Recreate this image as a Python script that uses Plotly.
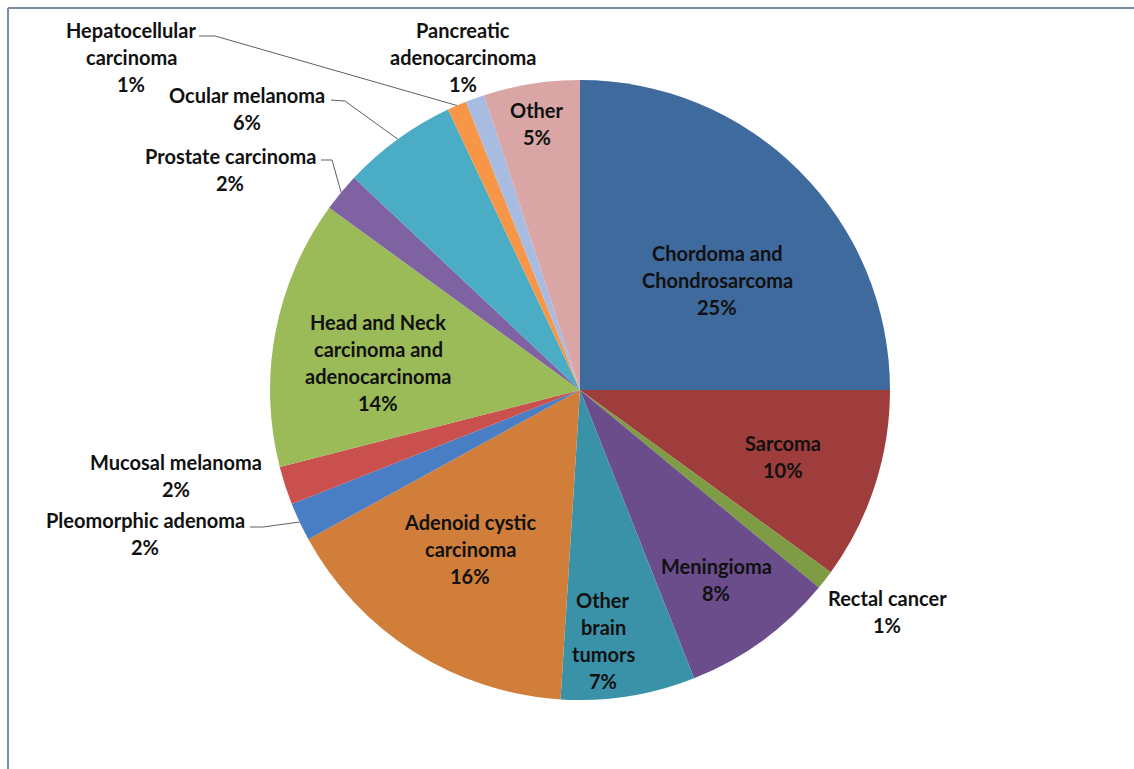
import math
import plotly.graph_objects as go

# Tumour types treated, share of patients (%)
categories = [
    "Chordoma and Chondrosarcoma", "Sarcoma", "Rectal cancer", "Meningioma",
    "Other brain tumors", "Adenoid cystic carcinoma", "Pleomorphic adenoma",
    "Mucosal melanoma", "Head and Neck carcinoma and adenocarcinoma",
    "Prostate carcinoma", "Ocular melanoma", "Hepatocellular carcinoma",
    "Pancreatic adenocarcinoma", "Other",
]
values = [25, 10, 1, 8, 7, 16, 2, 2, 14, 2, 6, 1, 1, 5]

# How each category name is broken over lines in its label
label_lines = [
    ["Chordoma and", "Chondrosarcoma"],
    ["Sarcoma"],
    ["Rectal cancer"],
    ["Meningioma"],
    ["Other", "brain", "tumors"],
    ["Adenoid cystic", "carcinoma"],
    ["Pleomorphic adenoma"],
    ["Mucosal melanoma"],
    ["Head and Neck", "carcinoma and", "adenocarcinoma"],
    ["Prostate carcinoma"],
    ["Ocular melanoma"],
    ["Hepatocellular", "carcinoma"],
    ["Pancreatic", "adenocarcinoma"],
    ["Other"],
]

colors = [
    "#3F6A9E", "#9E3D3B", "#7E9C44", "#6B4D8C", "#3A92A8", "#D07E3A",
    "#4A7EC4", "#C9504D", "#9BBB59", "#7E62A1", "#4BACC6", "#F79646",
    "#A8BCE2", "#D9A6A5",
]

# ---- layout geometry (pixels) ----
W, H = 1134, 769
CX, CY, R = 580, 390, 310
LINE_H = 27

# label block placement: (centre x, y of first line)
label_pos = {
    "Chordoma and Chondrosarcoma": (717, 253),
    "Sarcoma": (783, 443),
    "Rectal cancer": (887, 598),
    "Meningioma": (716, 566),
    "Other brain tumors": (603, 600),
    "Adenoid cystic carcinoma": (470, 522),
    "Pleomorphic adenoma": (145, 520),
    "Mucosal melanoma": (176, 462),
    "Head and Neck carcinoma and adenocarcinoma": (378, 322),
    "Prostate carcinoma": (230, 156),
    "Ocular melanoma": (247, 95),
    "Hepatocellular carcinoma": (131, 30),
    "Pancreatic adenocarcinoma": (463, 30),
    "Other": (537, 110),
}

# leader lines: start point and elbow; they end on the slice's mid-angle edge
leaders = {
    "Hepatocellular carcinoma": [(199, 36), (215, 36)],
    "Ocular melanoma": [(331, 100), (345, 101)],
    "Prostate carcinoma": [(321, 160), (332, 160)],
    "Pleomorphic adenoma": [(250, 527), (263, 527)],
}


def px(x):
    return x / W


def py(y):
    return 1 - y / H


fig = go.Figure(
    go.Pie(
        labels=categories,
        values=values,
        sort=False,
        direction="clockwise",
        rotation=0,
        marker=dict(colors=colors, line=dict(width=0)),
        textinfo="none",
        hoverinfo="label+percent",
        domain=dict(x=[px(CX - R), px(CX + R)], y=[py(CY + R), py(CY - R)]),
        showlegend=False,
    )
)

total = sum(values)
annotations = []
shapes = []
cum = 0
for name, v, lines in zip(categories, values, label_lines):
    mid = (cum + v / 2) / total * 2 * math.pi
    cum += v
    pct = f"{round(v / total * 100)}%"
    x0, y0 = label_pos[name]
    for i, t in enumerate(lines + [pct]):
        annotations.append(dict(
            x=px(x0), y=py(y0 + i * LINE_H), xref="paper", yref="paper",
            text=f"<b>{t}</b>", showarrow=False, xanchor="center", yanchor="middle",
            font=dict(family="Lato", size=20, color="#111111"),
        ))
    if name in leaders:
        ex = CX + R * math.sin(mid)
        ey = CY - R * math.cos(mid)
        pts = leaders[name] + [(ex, ey)]
        path = "M " + " L ".join(f"{px(a):.5f} {py(b):.5f}" for a, b in pts)
        shapes.append(dict(type="path", xref="paper", yref="paper", path=path,
                           line=dict(color="#5F5F5F", width=1)))

# chart-area frame
frame = "#7D8AA3"
shapes.append(dict(type="line", xref="paper", yref="paper",
                   x0=px(8), y0=py(8), x1=1.01, y1=py(8), line=dict(color=frame, width=2)))
shapes.append(dict(type="line", xref="paper", yref="paper",
                   x0=px(8), y0=py(8), x1=px(8), y1=-0.01, line=dict(color=frame, width=2)))

fig.update_layout(
    width=W, height=H,
    margin=dict(l=0, r=0, t=0, b=0),
    paper_bgcolor="white",
    plot_bgcolor="white",
    annotations=annotations,
    shapes=shapes,
)

fig.write_html("out.html")
